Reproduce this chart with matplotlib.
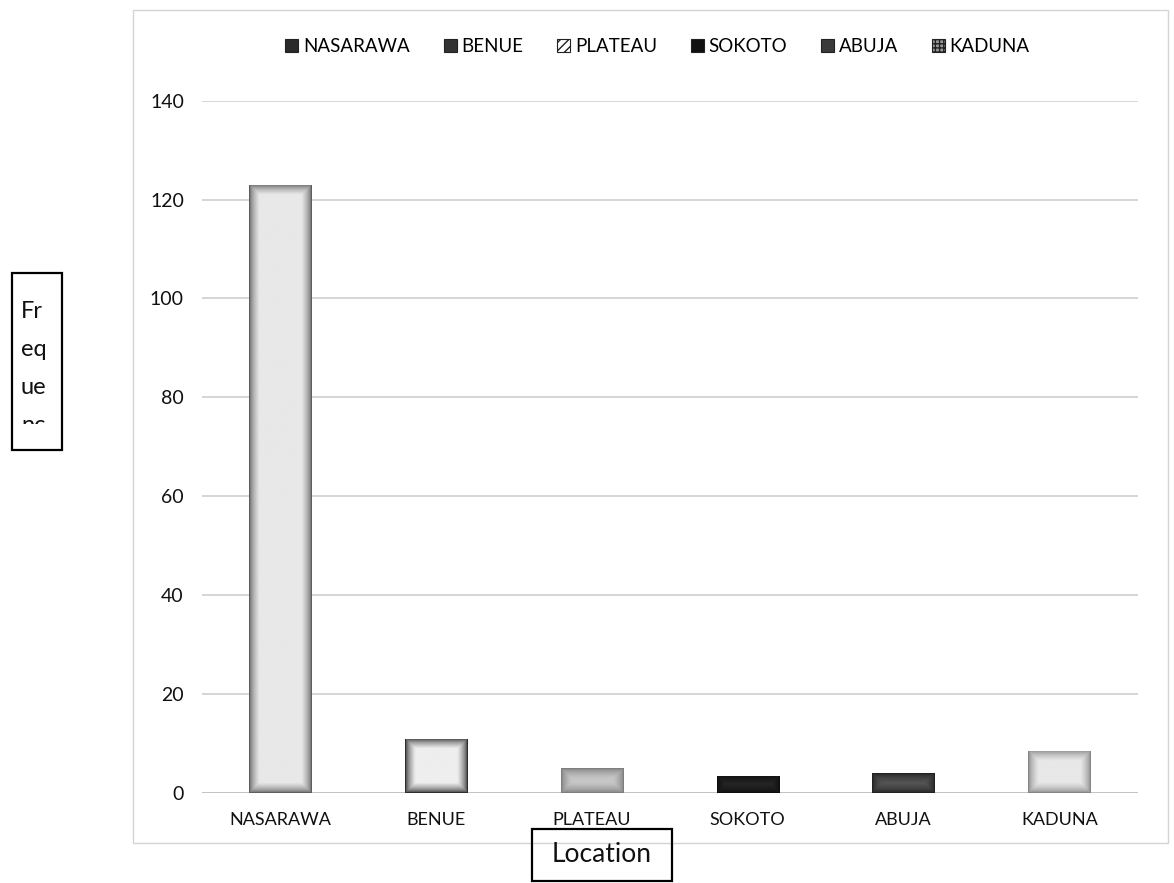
import numpy as np
import matplotlib.pyplot as plt
from matplotlib.patches import Patch, Rectangle
from matplotlib.colors import LinearSegmentedColormap

plt.rcParams['font.family'] = ['Lato', 'DejaVu Sans']

# frequency of respondents per location
locations = ['NASARAWA', 'BENUE', 'PLATEAU', 'SOKOTO', 'ABUJA', 'KADUNA']
frequency = [123, 11, 5, 3.5, 4, 8.5]
y_ticks = [0, 20, 40, 60, 80, 100, 120, 140]

# (edge shade, centre shade) for each bar's glow fill
bar_shades = [('#5e5e5e', '#e8e8e8'), ('#2e2e2e', '#eeeeee'),
              ('#7e7e7e', '#c6c6c6'), ('#0e0e0e', '#262626'),
              ('#222222', '#555555'), ('#858585', '#e8e8e8')]
legend_faces = ['#2a2a2a', '#333333', 'white', '#111111', '#3a3a3a', '#9a9a9a']
legend_hatch = [None, None, '////', None, None, '++++']

W, H = 1174, 883


def fig_box(x0, y0, x1, y1):
    # pixel box (top-left origin) -> figure fraction rectangle
    return (x0 / W, 1 - y1 / H, (x1 - x0) / W, (y1 - y0) / H)


fig = plt.figure(figsize=(W / 100, H / 100), dpi=100)
ax = fig.add_axes([0.172, 0.102, 0.797, 0.784])

x = np.arange(len(locations))
bars = ax.bar(x, frequency, width=0.4, color='none', edgecolor='none', zorder=3)
ax.set_xlim(-0.5, len(locations) - 0.5)
ax.set_ylim(0, 140)
ax.set_yticks(y_ticks)
ax.set_xticks(x)
ax.set_xticklabels(locations)
ax.tick_params(axis='both', length=0, colors='#111111')
ax.tick_params(axis='y', pad=13, labelsize=14)
ax.tick_params(axis='x', pad=14, labelsize=13)
for s in ax.spines.values():
    s.set_visible(False)
ax.yaxis.grid(True, color='#cacaca', lw=1.1, zorder=0)
ax.axhline(0, color='#a0a0a0', lw=1.2, zorder=1)

# glow fill: dark rim fading to a light centre, clipped to each bar
fig.canvas.draw()
for bar, (edge, centre) in zip(bars, bar_shades):
    x0, y0 = bar.get_x(), bar.get_y()
    w, h = bar.get_width(), bar.get_height()
    (px0, py0), (px1, py1) = ax.transData.transform([(x0, y0), (x0 + w, y0 + h)])
    nx, ny = 60, max(int(py1 - py0), 4)
    gx = np.linspace(0, px1 - px0, nx)
    gy = np.linspace(0, py1 - py0, ny)
    X, Y = np.meshgrid(gx, gy)
    d = np.minimum.reduce([X, (px1 - px0) - X, Y, (py1 - py0) - Y])
    t = np.clip(d / 10.0, 0, 1) ** 0.6
    cmap = LinearSegmentedColormap.from_list('glow', [edge, centre])
    im = ax.imshow(t, cmap=cmap, vmin=0, vmax=1, origin='lower', aspect='auto',
                   extent=(x0, x0 + w, y0, y0 + h), zorder=3, interpolation='bilinear')
    im.set_clip_path(bar)
ax.set_xlim(-0.5, len(locations) - 0.5)
ax.set_ylim(0, 140)

# legend across the top
handles = [Patch(facecolor=f, edgecolor='#222222', hatch=hh, lw=0.8, label=n)
           for f, hh, n in zip(legend_faces, legend_hatch, locations)]
fig.legend(handles=handles, loc='center', bbox_to_anchor=(0.56, 0.947), ncol=6,
           frameon=False, fontsize=13.5, handlelength=0.7, handleheight=0.7,
           handletextpad=0.25, columnspacing=1.8)

# outer chart border
fig.patches.append(Rectangle(fig_box(133, 10, 1168, 843)[:2], *fig_box(133, 10, 1168, 843)[2:],
                             transform=fig.transFigure, fill=False,
                             edgecolor='#d4d4d4', lw=1))

# boxed y title, wrapped and cut off by its box
yb = fig_box(12, 273, 62, 450)
fig.patches.append(Rectangle(yb[:2], *yb[2:], transform=fig.transFigure,
                             fill=False, edgecolor='black', lw=1.6))
clip = Rectangle(fig_box(12, 273, 62, 424)[:2], *fig_box(12, 273, 62, 424)[2:],
                 transform=fig.transFigure, fill=False, visible=False)
fig.patches.append(clip)
word = 'Frequency'
for i in range(0, len(word), 2):
    base = 318 + (i // 2) * 38
    t = fig.text(21 / W, 1 - base / H, word[i:i + 2], fontsize=17,
                 ha='left', va='baseline', color='#111111')
    t.set_clip_path(clip)

# boxed x title
xb = fig_box(532, 829, 672, 881)
fig.patches.append(Rectangle(xb[:2], *xb[2:], transform=fig.transFigure,
                             fill=False, edgecolor='black', lw=1.6))
fig.text(602 / W, 1 - 855 / H, 'Location', fontsize=19, ha='center', va='center',
         color='#111111')

fig.savefig('out.png', dpi=100)
